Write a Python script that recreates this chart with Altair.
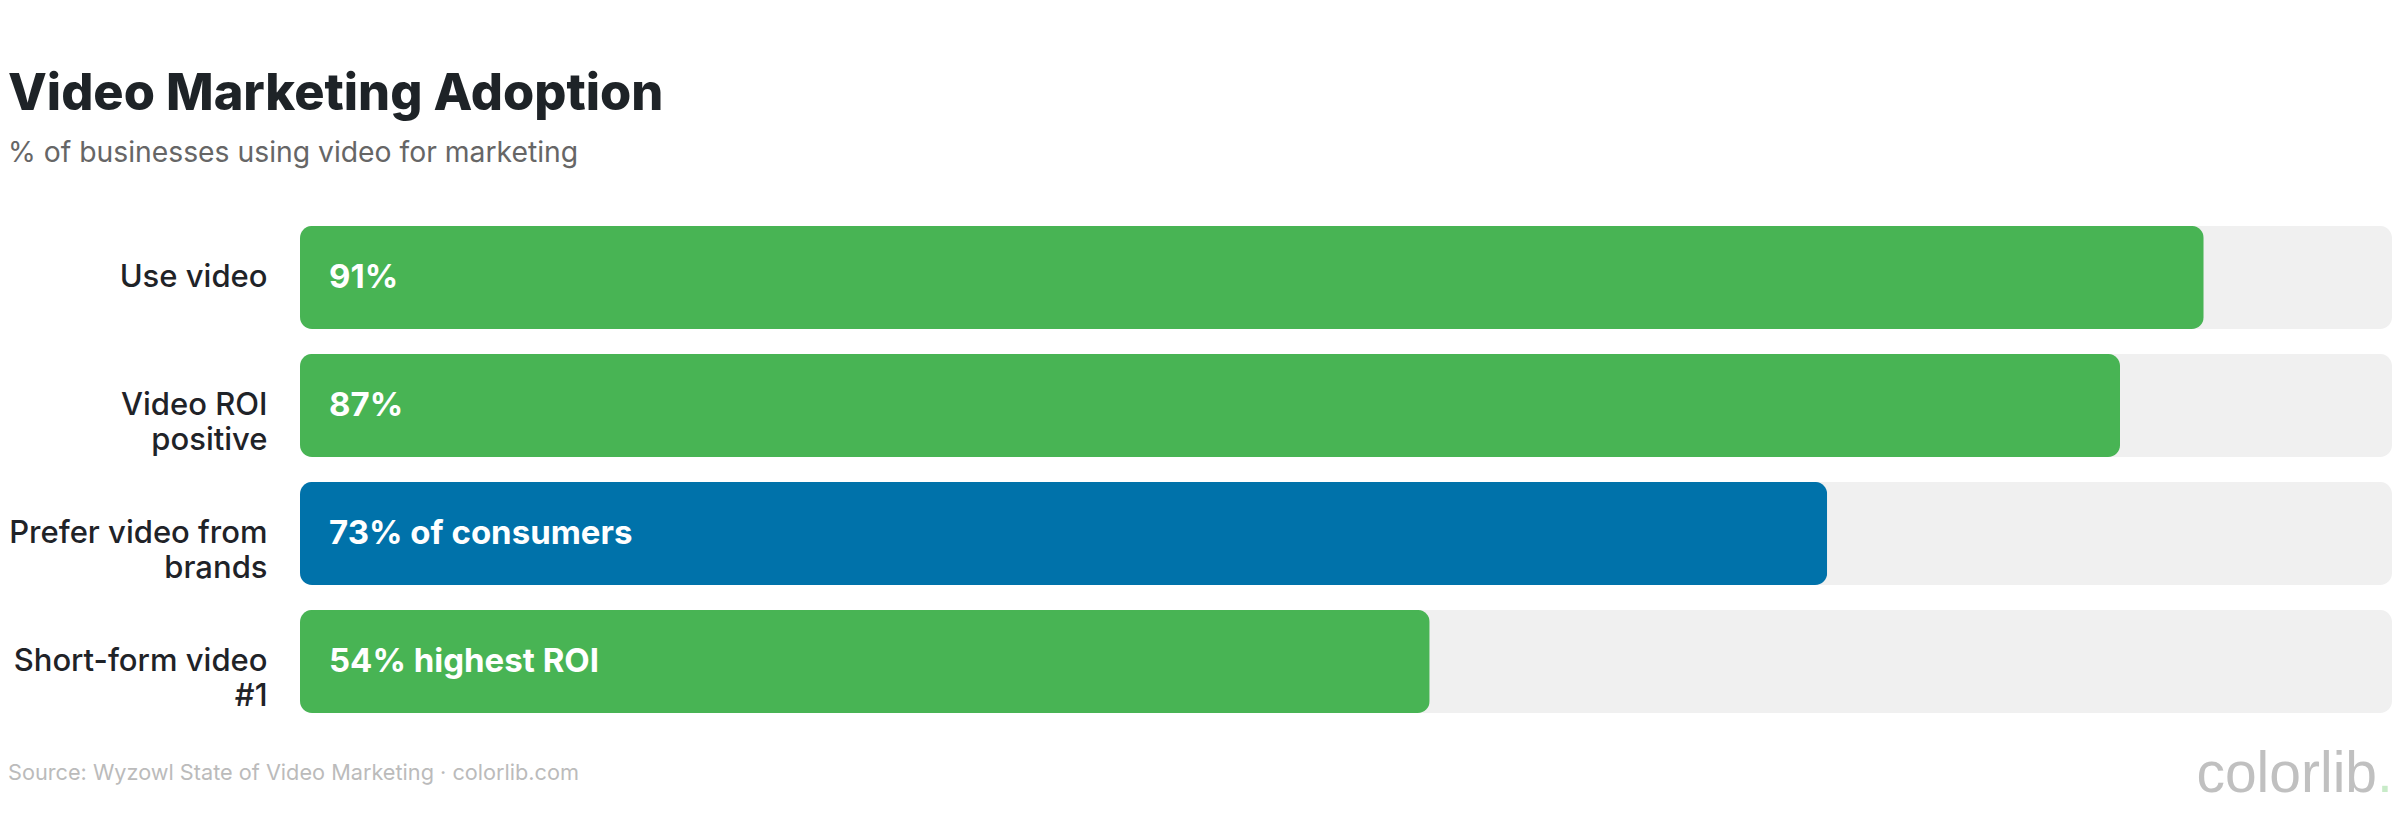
import altair as alt
import pandas as pd

# ---- data ----
axis_labels = ["Use video", "Video ROI|positive", "Prefer video from|brands", "Short-form video|#1"]
values = [91, 87, 73, 54]
value_labels = ["91%", "87%", "73% of consumers", "54% highest ROI"]
highlight = ["no", "no", "yes", "no"]
track_max = [100, 100, 100, 100]

title_text = "Video Marketing Adoption"
subtitle_text = "% of businesses using video for marketing"
footer_text = "Source: Wyzowl State of Video Marketing · colorlib.com"
logo_text = "colorlib"

df = pd.DataFrame({
    "category": axis_labels,
    "value": values,
    "label": value_labels,
    "highlight": highlight,
    "max": track_max,
})

GREEN = "#48b454"
BLUE = "#0072aa"
TRACK = "#f0f0f0"
FONT = "Inter"

W, H = 2092, 512

y_enc = alt.Y(
    "category:N",
    sort=axis_labels,
    scale=alt.Scale(paddingInner=0.195, paddingOuter=0.0975),
    axis=alt.Axis(
        title=None,
        labelExpr="split(datum.label, '|')",
        labelFontSize=31,
        labelFont=FONT,
        labelFontWeight=500,
        labelColor="#1f2328",
        labelPadding=33,
        labelLineHeight=35,
        labelLimit=500,
        ticks=False,
        domain=False,
        grid=False,
    ),
)
x_scale = alt.Scale(domain=[0, 100])

base = alt.Chart(df)

track = base.mark_bar(color=TRACK, cornerRadius=12).encode(
    x=alt.X("max:Q", scale=x_scale, axis=None),
    y=y_enc,
)

bars = base.mark_bar(cornerRadius=12).encode(
    x=alt.X("value:Q", scale=x_scale, axis=None),
    y=y_enc,
    color=alt.Color(
        "highlight:N",
        scale=alt.Scale(domain=["no", "yes"], range=[GREEN, BLUE]),
        legend=None,
    ),
)

vals = base.mark_text(
    align="left", baseline="middle", dx=29, color="white",
    font=FONT, fontSize=33, fontWeight="bold",
).encode(
    x=alt.datum(0),
    y=alt.Y("category:N", sort=axis_labels),
    text="label:N",
)

one = alt.Data(values=[{}])

title = alt.Chart(one).mark_text(
    text=title_text, align="left", baseline="alphabetic",
    font=FONT, fontSize=50.5, fontWeight=800, color="#1e2327",
).encode(x=alt.value(-292), y=alt.value(-103.5))

subtitle = alt.Chart(one).mark_text(
    text=subtitle_text, align="left", baseline="alphabetic",
    font=FONT, fontSize=28.3, color="#666666",
).encode(x=alt.value(-292), y=alt.value(-52))

footer = alt.Chart(one).mark_text(
    text=footer_text, align="left", baseline="alphabetic",
    font=FONT, fontSize=21.7, color="#bbbbbb",
).encode(x=alt.value(-292), y=alt.value(566.5))

logo = alt.Chart(one).mark_text(
    text=logo_text, align="right", baseline="alphabetic",
    font="Liberation Sans", fontSize=57, color="#c0c0c0",
).encode(x=alt.value(W - 15), y=alt.value(578.5))

logo_dot = alt.Chart(one).mark_text(
    text=".", align="left", baseline="alphabetic",
    font="Liberation Sans", fontSize=57, color="#c8ebc8",
).encode(x=alt.value(W - 15), y=alt.value(578.5))

chart = alt.layer(track, bars, vals, title, subtitle, footer, logo, logo_dot).properties(
    width=W,
    height=H,
    padding={"left": 292, "top": 205.5, "right": 0, "bottom": 87},
    autosize=alt.AutoSizeParams(type="none"),
    background="white",
).configure_view(stroke=None)

chart.save("out.html", embed_options={"renderer": "svg", "actions": False})
